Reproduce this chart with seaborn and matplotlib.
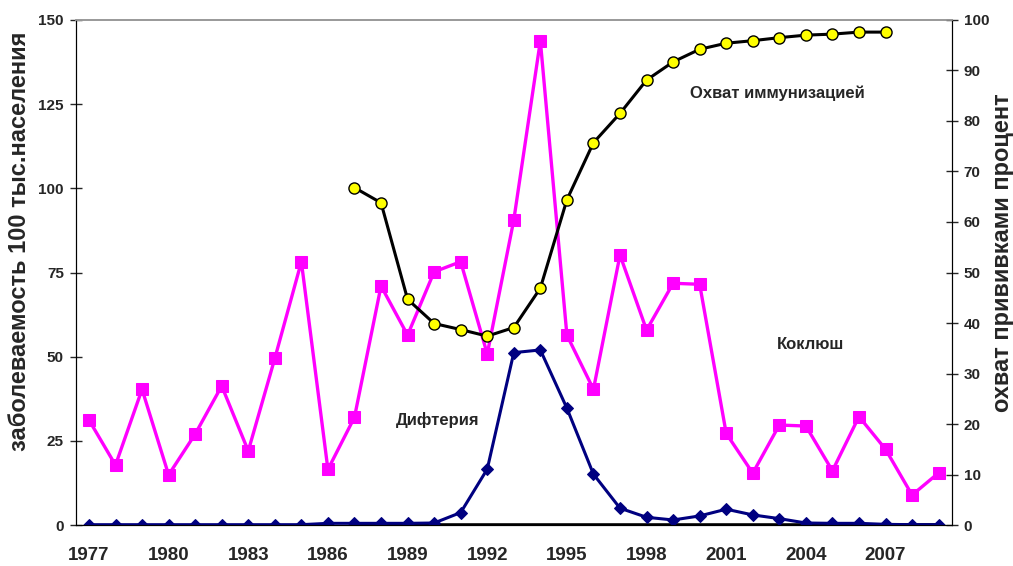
import matplotlib
matplotlib.use("Agg")
import matplotlib.pyplot as plt
import seaborn as sns
import pandas as pd

# данные
years = list(range(1977, 2010))
pertussis = [31.2, 17.8, 40.3, 14.9, 27.0, 41.3, 22.0, 49.5, 78.2, 16.5,
             32.0, 71.0, 56.4, 75.2, 78.2, 50.8, 90.6, 143.8, 56.4, 40.3,
             80.2, 57.9, 71.8, 71.5, 27.2, 15.4, 29.7, 29.4, 16.1, 32.2,
             22.5, 8.9, 15.5]
diphtheria = [0.1, 0.1, 0.1, 0.1, 0.1, 0.1, 0.1, 0.1, 0.1, 0.5,
              0.5, 0.5, 0.5, 0.6, 3.7, 16.6, 51.2, 52.0, 34.7, 15.1,
              5.0, 2.3, 1.5, 2.7, 4.7, 3.0, 1.9, 0.6, 0.5, 0.5,
              0.2, 0.1, 0.1]
coverage_years = list(range(1987, 2008))
coverage = [66.8, 63.8, 44.7, 39.9, 38.7, 37.4, 39.1, 46.9, 64.4, 75.7,
            81.5, 88.1, 91.7, 94.2, 95.4, 95.9, 96.5, 97.0, 97.2, 97.6, 97.6]
other_years = list(range(1987, 2010))
other = [0, 0, 0, 0, 0, 0, 0, 0, 0, 0, 0, 0, 0, 0, 0, 0, 0, 0, 0, 0, 0, 0, 0]
year_labels = [1977, 1980, 1983, 1986, 1989, 1992, 1995, 1998, 2001, 2004, 2007]

df = pd.DataFrame({"год": years, "Коклюш": pertussis, "Дифтерия": diphtheria})
cov = pd.DataFrame({"год": coverage_years, "охват": coverage})
oth = pd.DataFrame({"год": other_years, "v": other})

sns.set_style("white")
plt.rcParams["font.family"] = ["Liberation Sans", "DejaVu Sans"]
plt.rcParams["font.weight"] = "bold"
plt.rcParams["axes.labelweight"] = "bold"

fig = plt.figure(figsize=(10.13, 5.66), dpi=100)
ax = fig.add_axes([0.0747, 0.0724, 0.865, 0.8923])
ax2 = ax.twinx()

sns.lineplot(data=oth, x="год", y="v", ax=ax, color="black", linewidth=2.6, zorder=2)
sns.lineplot(data=df, x="год", y="Дифтерия", ax=ax, color="#000080", linewidth=2.2,
             marker="D", markersize=6.5, markeredgecolor="#000080", zorder=3)
sns.lineplot(data=df, x="год", y="Коклюш", ax=ax, color="#FF00FF", linewidth=2.4,
             marker="s", markersize=8.5, markeredgecolor="#FF00FF", zorder=4)
sns.lineplot(data=cov, x="год", y="охват", ax=ax2, color="black", linewidth=2.2,
             marker="o", markersize=8, markerfacecolor="#FFFF00",
             markeredgecolor="black", markeredgewidth=1)

ax.set_xlim(1976.5, 2009.5)
ax.set_ylim(0, 150)
ax2.set_ylim(0, 100)
ax.set_yticks(range(0, 151, 25))
ax2.set_yticks(range(0, 101, 10))
ax.set_xticks(year_labels)
ax.set_xticklabels([str(y) for y in year_labels])
ax.set_xticks([y + 0.5 for y in range(1976, 2009)], minor=True)
ax.tick_params(axis="x", which="major", length=0, labelsize=13.5, pad=16)
ax.tick_params(axis="x", which="minor", length=6, width=1, direction="out")
ax.tick_params(axis="y", length=9, width=1, direction="inout", labelsize=11, pad=4)
ax2.tick_params(axis="y", length=9, width=1, direction="inout", labelsize=11, pad=4)
for lab in ax.get_xticklabels() + ax.get_yticklabels() + ax2.get_yticklabels():
    lab.set_fontweight("bold")

ax.set_xlabel("")
ax.set_ylabel("заболеваемость 100 тыс.населения", fontsize=17, fontweight="bold")
ax2.set_ylabel("охват прививками процент", fontsize=17, fontweight="bold")
ax.yaxis.set_label_coords(-0.064, 0.562)
ax2.yaxis.set_label_coords(1.058, 0.54)
ax.yaxis.label.set_va("center")
ax2.yaxis.label.set_va("center")

for a in (ax, ax2):
    a.spines["top"].set_color("#999999")
    a.spines["left"].set_color("black")
    a.spines["right"].set_color("black")
    a.spines["bottom"].set_color("black")
    a.spines["top"].set_linewidth(1.2)

ax2.text(1999.65, 85.5, "Охват иммунизацией", fontsize=12, fontweight="bold", va="center", ha="left")
ax.text(2002.9, 53.5, "Коклюш", fontsize=12, fontweight="bold", va="center", ha="left")
ax.text(1988.55, 31.2, "Дифтерия", fontsize=12, fontweight="bold", va="center", ha="left")

fig.savefig("out.png", dpi=100)
